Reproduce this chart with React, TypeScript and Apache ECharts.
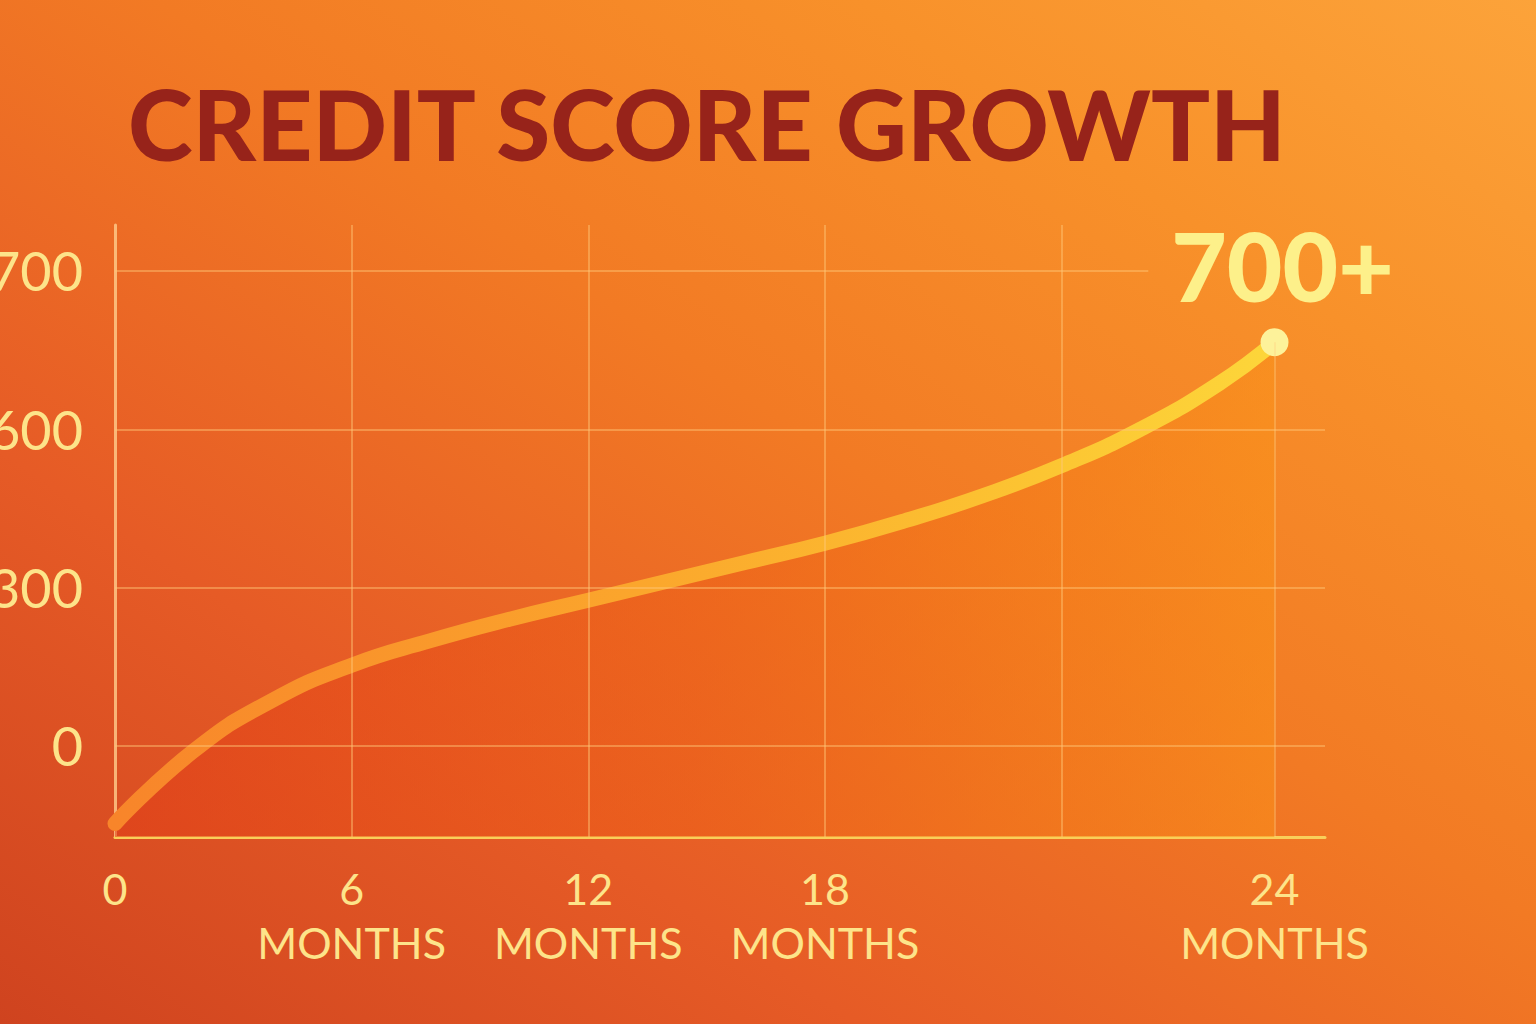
import React, { useEffect, useRef } from "react";
import * as echarts from "echarts";

const titleText = "CREDIT SCORE GROWTH";
const months = [0, 2, 4, 6, 8, 10, 12, 14, 16, 18, 20, 22, 24, 26, 28, 29.4];
const scoreLevel = [-0.49, -0.03, 0.29, 0.51, 0.665, 0.8, 0.92, 1.04, 1.16, 1.28, 1.42, 1.58, 1.77, 2.0, 2.29, 2.55];
const xLabelValues = [0, 6, 12, 18, 29.4];
const xLabelTexts = ["0", "6\nMONTHS", "12\nMONTHS", "18\nMONTHS", "24\nMONTHS"];
const xGridValues = [6, 12, 18, 24];
const yLevelValues = [0, 1, 2, 3];
const yLabelTexts = ["0", "300", "600", "700"];
const endLabel = "700+";

export default function App() {
  const ref = useRef<HTMLDivElement>(null);
  useEffect(() => {
    if (!ref.current) return;
    const chart = echarts.init(ref.current, null, { renderer: "svg" });
    const pts = months.map((m, i) => [m, scoreLevel[i]]);
    const last = pts[pts.length - 1];
    const yMin = -0.575;
    const gridLine = { color: "rgba(255,200,120,0.45)", width: 2, type: "solid" };
    const option: any = {
      animation: false,
      title: {
        text: titleText,
        left: 123,
        top: 69,
        textStyle: {
          fontFamily: "Lato",
          fontWeight: 900,
          fontSize: 98,
          lineHeight: 98,
          color: "#97231a",
        },
      },
      grid: { left: 115, right: 211, top: 225, bottom: 187, outerBoundsMode: "none", containLabel: false },
      xAxis: {
        type: "value",
        min: 0,
        max: 30.68,
        axisLine: { show: true, onZero: false, lineStyle: { color: "#f9cf5a", width: 3 } },
        axisTick: { show: false },
        splitLine: { show: false },
        axisLabel: {
          customValues: xLabelValues,
          margin: 24,
          color: "#fde48a",
          fontFamily: "Lato",
          fontSize: 43,
          lineHeight: 54,
          formatter: (v: number) => {
            const i = xLabelValues.findIndex((x) => Math.abs(x - v) < 0.01);
            return i >= 0 ? xLabelTexts[i] : "";
          },
        },
      },
      yAxis: {
        type: "value",
        min: yMin,
        max: 3.29,
        axisLine: { show: true, onZero: false, lineStyle: { color: "rgba(255,205,140,0.8)", width: 3 } },
        axisTick: { show: false },
        splitLine: { show: false },
        axisLabel: {
          customValues: yLevelValues,
          margin: 32,
          color: "#fde48a",
          fontFamily: "Lato",
          fontSize: 54,
          formatter: (v: number) => {
            const i = yLevelValues.findIndex((y) => Math.abs(y - v) < 0.01);
            return i >= 0 ? yLabelTexts[i] : "";
          },
        },
      },
      series: [
        {
          type: "line",
          z: 1,
          data: pts,
          showSymbol: false,
          lineStyle: { opacity: 0 },
          silent: true,
          markLine: {
            silent: true,
            symbol: "none",
            label: { show: false },
            lineStyle: gridLine,
            data: [
              ...xGridValues.map((m) => ({ xAxis: m })),
              ...yLevelValues.slice(0, 3).map((y) => ({ yAxis: y })),
              [{ coord: [0, 3] }, { coord: [26.2, 3] }],
              [
                { coord: [last[0], last[1]], lineStyle: { color: "rgba(255,210,130,0.35)", width: 2 } },
                { coord: [last[0], yMin] },
              ],
            ],
          },
        },
        {
          type: "line",
          z: 3,
          data: pts,
          smooth: 0.5,
          showSymbol: false,
          lineStyle: {
            width: 15,
            cap: "round",
            color: new echarts.graphic.LinearGradient(0, 0, 1, 0, [
              { offset: 0, color: "#f8852a" },
              { offset: 0.45, color: "#fba62c" },
              { offset: 0.8, color: "#fcc532" },
              { offset: 1, color: "#fdd63a" },
            ]),
          },
          areaStyle: {
            origin: "start",
            color: new echarts.graphic.LinearGradient(0, 0, 1, 0, [
              { offset: 0, color: "rgba(226,62,24,0.78)" },
              { offset: 0.5, color: "rgba(238,96,22,0.68)" },
              { offset: 1, color: "rgba(250,146,24,0.72)" },
            ]),
          },
        },
        {
          type: "scatter",
          z: 4,
          data: [last],
          symbolSize: 28,
          itemStyle: { color: "#fdf29a", opacity: 1 },
          label: {
            show: true,
            position: "top",
            distance: 16,
            offset: [8, 0],
            formatter: endLabel,
            color: "#fdf08a",
            fontFamily: "Lato",
            fontWeight: 900,
            fontSize: 96,
          },
        },
      ],
    };
    chart.setOption(option);
    return () => chart.dispose();
  }, []);
  return (
    <div
      style={{
        position: "fixed",
        left: 0,
        top: 0,
        width: 1536,
        height: 1024,
        background:
          "linear-gradient(to top right, #cf431f 0%, #e65b26 28%, #f27a24 55%, #f8912a 78%, #fca33a 100%)",
      }}
    >
      <div ref={ref} style={{ width: 1536, height: 1024 }} />
    </div>
  );
}
